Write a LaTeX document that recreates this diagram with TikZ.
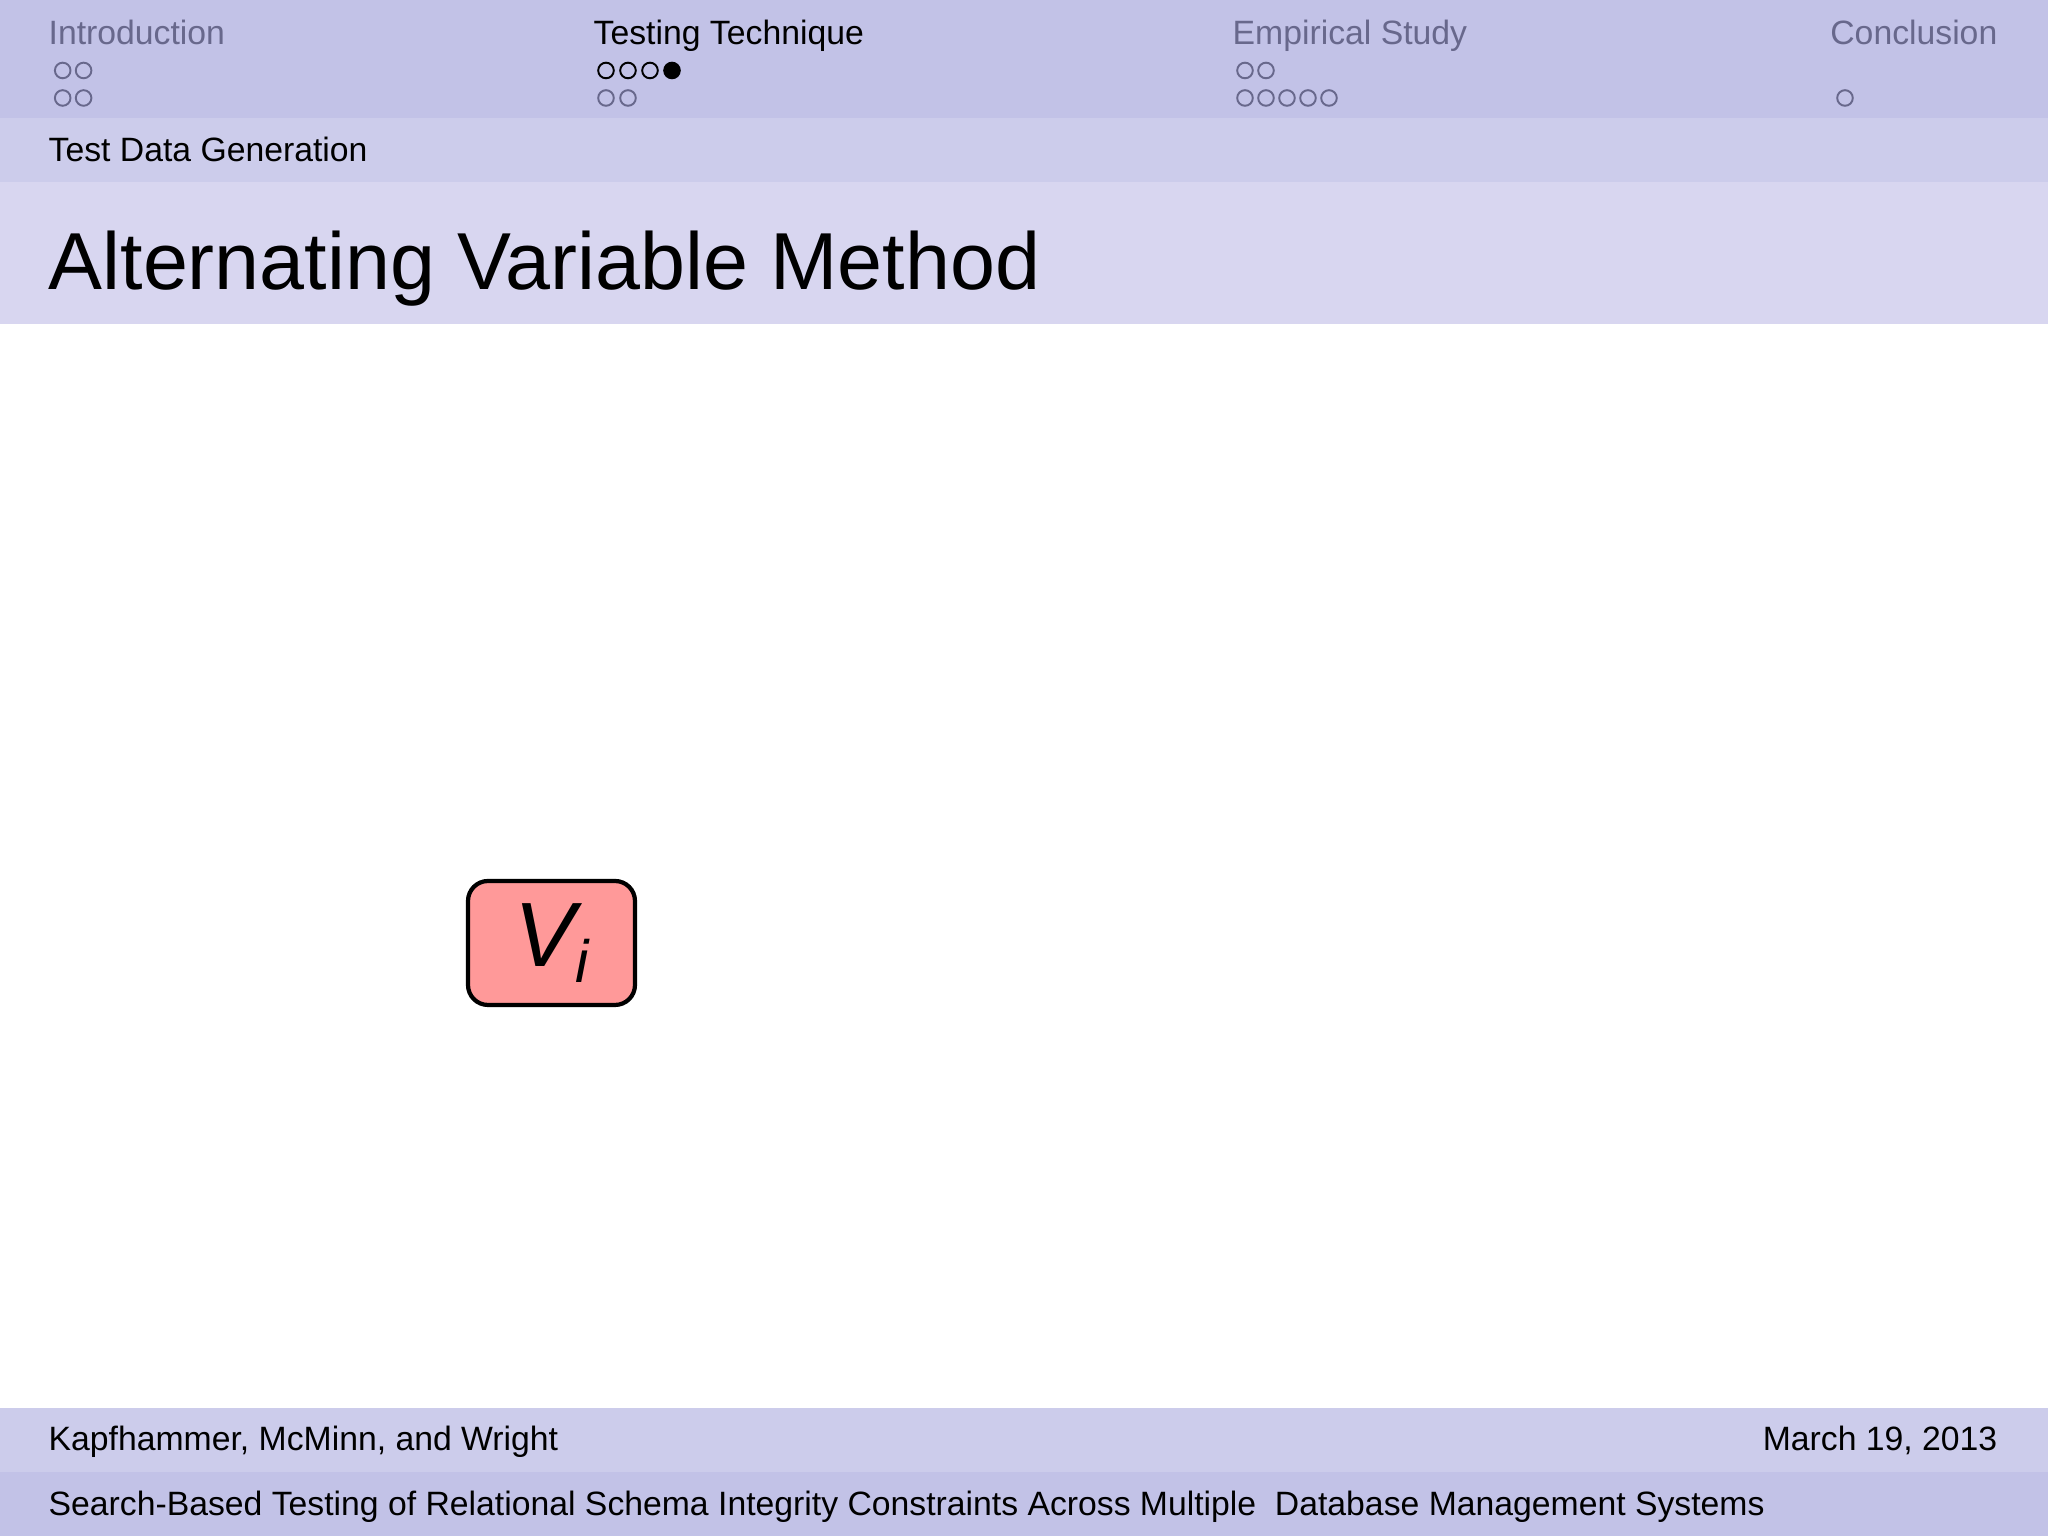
\documentclass[tikz,border=0pt]{standalone}
\usepackage{fontspec}
\setmainfont{Liberation Sans}
\definecolor{barDark}{RGB}{194,194,231}
\definecolor{barMid}{RGB}{204,204,235}
\definecolor{barLight}{RGB}{216,214,240}
\definecolor{navGray}{RGB}{104,104,140}
\definecolor{boxRed}{RGB}{255,153,153}
\begin{document}
\begin{tikzpicture}[
    navtext/.style={inner sep=0pt, font=\fontsize{9.6}{11}\selectfont},
    navdot/.style={draw=navGray, line width=0.55pt},
    bartext/.style={inner sep=0pt, font=\fontsize{9.6}{11}\selectfont}
  ]
    \useasboundingbox (0,0) rectangle (20.48,15.36);
    \fill [white] (0,0) rectangle (20.48,15.36);
    % header bars
    \fill [barDark] (0,14.18) rectangle (20.48,15.36);
    \fill [barMid] (0,13.54) rectangle (20.48,14.18);
    \fill [barLight] (0,12.12) rectangle (20.48,13.54);
    % footer bars
    \fill [barMid] (0,0.64) rectangle (20.48,1.28);
    \fill [barDark] (0,0) rectangle (20.48,0.64);
    % sections
    \node [navtext, text=navGray, anchor=base west] (secIntro) at (0.48,14.91) {Introduction};
    \node [navtext, anchor=base west] (secTesting) at (5.93,14.91) {Testing Technique};
    \node [navtext, text=navGray, anchor=base west] (secStudy) at (12.32,14.91) {Empirical Study};
    \node [navtext, text=navGray, anchor=base east] (secConcl) at (19.98,14.91) {Conclusion};
    % navigation dots
    \foreach \x in {0.627,0.836} {
      \draw [navdot] (\x,14.655) circle (0.078);
      \draw [navdot] (\x,14.38) circle (0.078);
    }
    \foreach \x in {6.06,6.28,6.50} \draw [navdot, draw=black] (\x,14.655) circle (0.078);
    \fill (6.72,14.655) circle (0.088);
    \foreach \x in {6.06,6.28} \draw [navdot] (\x,14.38) circle (0.078);
    \foreach \x in {12.45,12.66} \draw [navdot] (\x,14.655) circle (0.078);
    \foreach \x in {12.45,12.66,12.87,13.08,13.29} \draw [navdot] (\x,14.38) circle (0.078);
    \draw [navdot] (18.45,14.38) circle (0.078);
    % subsection and title
    \node [bartext, anchor=base west] (subsec) at (0.48,13.74) {Test Data Generation};
    \node [inner sep=0pt, anchor=base west, font=\fontsize{23}{27}\selectfont] (frameTitle) at (0.48,12.46) {Alternating Variable Method};
    % variable box
    \node [draw, line width=1.2pt, fill=boxRed, rounded corners=0.2cm,
      minimum width=1.67cm, minimum height=1.24cm, inner sep=0pt] (varBox) at (5.515,5.93)
      {\fontsize{26}{30}\selectfont\itshape V\raisebox{-4.5pt}{\fontsize{17}{20}\selectfont i}};
    % footer
    \node [bartext, anchor=base west] (authors) at (0.48,0.85) {Kapfhammer, McMinn, and Wright};
    \node [bartext, anchor=base east] (date) at (19.98,0.85) {March 19, 2013};
    \node [bartext, anchor=base west] (talkTitle) at (0.48,0.20) {Search-Based Testing of Relational Schema Integrity Constraints Across Multiple\ \ Database Management Systems};
  \end{tikzpicture}
\end{document}
